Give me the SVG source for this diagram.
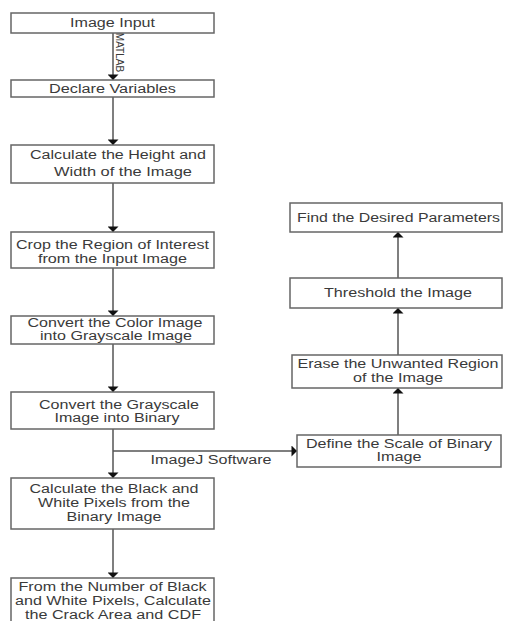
<svg xmlns="http://www.w3.org/2000/svg" width="505" height="621" viewBox="0 0 505 621">
<style>
.box{fill:#fff;stroke:#666;stroke-width:1.5}
.t{font-family:"Liberation Sans",Arial,sans-serif;font-size:12.5px;fill:#3a3a3a;text-anchor:middle}
.c{fill:none;stroke:#555;stroke-width:1.5}
</style>
<defs>
<marker id="ah" viewBox="0 0 10 10" refX="10" refY="5" markerWidth="7" markerHeight="7" markerUnits="userSpaceOnUse" orient="auto"><path d="M0,0 L10,5 L0,10 z" fill="#111"/></marker>
<marker id="aw" viewBox="0 0 6 12" refX="6" refY="6" markerWidth="6" markerHeight="11" markerUnits="userSpaceOnUse" orient="auto"><path d="M0,0 L6,6 L0,12 z" fill="#111"/></marker>
</defs>
<rect width="505" height="621" fill="#fff"/>
<g id="connectors">
<path class="c" d="M113,33 V80" marker-end="url(#aw)"/>
<path class="c" d="M113,97 V145" marker-end="url(#aw)"/>
<path class="c" d="M113,183 V232" marker-end="url(#aw)"/>
<path class="c" d="M113,268 V316" marker-end="url(#aw)"/>
<path class="c" d="M113,344 V392" marker-end="url(#aw)"/>
<path class="c" d="M113,429 V478" marker-end="url(#aw)"/>
<path class="c" d="M113,451 H297" marker-end="url(#aw)"/>
<path class="c" d="M113,529 V578" marker-end="url(#aw)"/>
<path class="c" d="M398,435 V388" marker-end="url(#aw)"/>
<path class="c" d="M398,355 V308" marker-end="url(#aw)"/>
<path class="c" d="M398,278 V232" marker-end="url(#aw)"/>
<text class="t" style="font-size:10px;text-anchor:middle" transform="translate(115.5,52.5) rotate(90)">MATLAB</text>
<text class="t" x="211" y="464" textLength="121" lengthAdjust="spacingAndGlyphs">ImageJ Software</text>
</g>
<g id="n1"><rect class="box" x="11" y="13" width="203" height="20"/><text class="t" x="112.5" y="27" textLength="85" lengthAdjust="spacingAndGlyphs">Image Input</text></g>
<g id="n2"><rect class="box" x="11" y="80" width="203" height="17"/><text class="t" x="112.5" y="93" textLength="127" lengthAdjust="spacingAndGlyphs">Declare Variables</text></g>
<g id="n3"><rect class="box" x="11" y="145" width="203" height="38"/><text class="t" x="118" y="159" textLength="176" lengthAdjust="spacingAndGlyphs">Calculate the Height and</text><text class="t" x="123" y="176" textLength="138" lengthAdjust="spacingAndGlyphs">Width of the Image</text></g>
<g id="n4"><rect class="box" x="11" y="232" width="203" height="36"/><text class="t" x="112.5" y="249" textLength="193" lengthAdjust="spacingAndGlyphs">Crop the Region of Interest</text><text class="t" x="112.5" y="262.5" textLength="149" lengthAdjust="spacingAndGlyphs">from the Input Image</text></g>
<g id="n5"><rect class="box" x="11" y="316" width="203" height="28"/><text class="t" x="115" y="327" textLength="175" lengthAdjust="spacingAndGlyphs">Convert the Color Image</text><text class="t" x="116" y="340" textLength="152" lengthAdjust="spacingAndGlyphs">into Grayscale Image</text></g>
<g id="n6"><rect class="box" x="11" y="392" width="203" height="37"/><text class="t" x="119" y="409" textLength="160" lengthAdjust="spacingAndGlyphs">Convert the Grayscale</text><text class="t" x="117" y="422" textLength="125" lengthAdjust="spacingAndGlyphs">Image into Binary</text></g>
<g id="n7"><rect class="box" x="11" y="478" width="203" height="51"/><text class="t" x="114" y="492.5" textLength="169" lengthAdjust="spacingAndGlyphs">Calculate the Black and</text><text class="t" x="114" y="507" textLength="152" lengthAdjust="spacingAndGlyphs">White Pixels from the</text><text class="t" x="114" y="521" textLength="95" lengthAdjust="spacingAndGlyphs">Binary Image</text></g>
<g id="n8"><rect class="box" x="11" y="578" width="203" height="60"/><text class="t" x="112.5" y="590.5" textLength="188" lengthAdjust="spacingAndGlyphs">From the Number of Black</text><text class="t" x="113" y="604.5" textLength="196" lengthAdjust="spacingAndGlyphs">and White Pixels, Calculate</text><text class="t" x="113" y="619" textLength="176" lengthAdjust="spacingAndGlyphs">the Crack Area and CDF</text></g>
<g id="n9"><rect class="box" x="290" y="203" width="212" height="29"/><text class="t" x="398.5" y="222" textLength="203" lengthAdjust="spacingAndGlyphs">Find the Desired Parameters</text></g>
<g id="n10"><rect class="box" x="290" y="278" width="212" height="30"/><text class="t" x="398" y="297" textLength="148" lengthAdjust="spacingAndGlyphs">Threshold the Image</text></g>
<g id="n11"><rect class="box" x="292" y="355" width="210" height="33"/><text class="t" x="398" y="368" textLength="201" lengthAdjust="spacingAndGlyphs">Erase the Unwanted Region</text><text class="t" x="398" y="382" textLength="90" lengthAdjust="spacingAndGlyphs">of the Image</text></g>
<g id="n12"><rect class="box" x="297" y="435" width="204" height="32"/><text class="t" x="399" y="447.5" textLength="186" lengthAdjust="spacingAndGlyphs">Define the Scale of Binary</text><text class="t" x="399" y="461" textLength="45" lengthAdjust="spacingAndGlyphs">Image</text></g>
</svg>
